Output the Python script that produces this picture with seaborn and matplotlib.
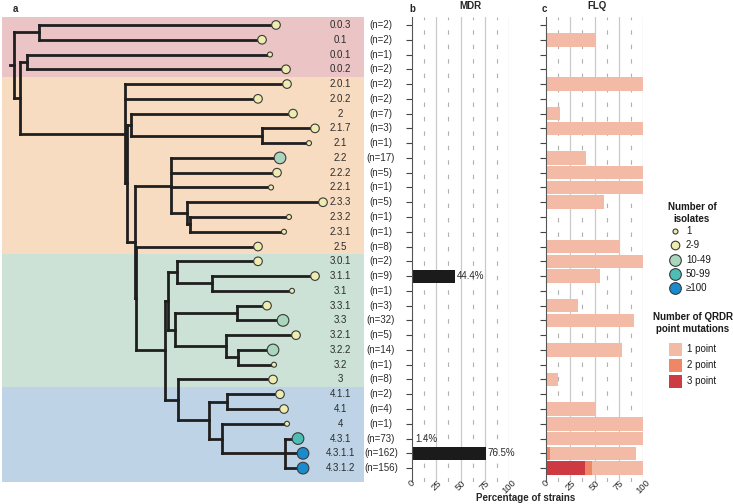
import matplotlib
matplotlib.use('Agg')
import matplotlib.pyplot as plt
import seaborn as sns
import numpy as np
import pandas as pd
from matplotlib.patches import Rectangle
from matplotlib.collections import LineCollection

sns.set_theme(style='white')
plt.rcParams['font.family'] = ['Liberation Sans', 'DejaVu Sans']

# ---------------- data ----------------
tip_labels = ['0.0.3', '0.1', '0.0.1', '0.0.2', '2.0.1', '2.0.2', '2', '2.1.7', '2.1',
              '2.2', '2.2.2', '2.2.1', '2.3.3', '2.3.2', '2.3.1', '2.5', '3.0.1', '3.1.1',
              '3.1', '3.3.1', '3.3', '3.2.1', '3.2.2', '3.2', '3', '4.1.1', '4.1', '4',
              '4.3.1', '4.3.1.1', '4.3.1.2']
tip_counts = [2, 2, 1, 2, 2, 2, 7, 3, 1, 17, 5, 1, 5, 1, 1, 8, 2, 9, 1, 3, 32, 5, 14, 1,
              8, 2, 4, 1, 73, 162, 156]
tip_depth = [276, 262, 270, 286, 287, 258, 293, 315, 309, 280, 277, 271, 323, 289, 284,
             258, 258, 315, 292, 267, 283, 296, 273, 274, 273, 280, 284, 287, 298, 303, 303]

node_names = ['root', 'A', 'D', 'B', 'C', 'C3', 'J', 'K', 'E1', 'E2', 'F', 'H', 'I', 'G',
              'W', 'Q', 'R', 'V', 'S', 'T', 'U', 'M', 'L', 'N', 'O', 'P']
node_depth = [14, 39, 20, 27, 124.5, 127, 131, 262, 134.5, 135.5, 171, 187, 190, 165,
              168, 177, 212, 175, 237, 226, 238, 178, 209, 227, 222, 285]
node_children = [['A', 'D'], ['0.0.3', '0.1'], ['B', 'C'], ['0.0.1', '0.0.2'],
                 ['2.0.1', '2.0.2', 'C3'], ['J', 'E1'], ['2', 'K'], ['2.1.7', '2.1'],
                 ['F', 'E2'], ['2.5', 'G'], ['2.2', '2.2.2', '2.2.1', 'H'], ['2.3.3', 'I'],
                 ['2.3.2', '2.3.1'], ['W', 'M'], ['Q', 'V'], ['3.0.1', 'R'], ['3.1.1', '3.1'],
                 ['S', 'T'], ['3.3.1', '3.3'], ['3.2.1', 'U'], ['3.2.2', '3.2'], ['3', 'L'],
                 ['N', 'O'], ['4.1.1', '4.1'], ['4', 'P'], ['4.3.1', '4.3.1.1', '4.3.1.2']]
root_stem = 10

band_edges = [-0.56, 3.5, 15.5, 24.5, 30.96]
band_colors = ['#EBC4C5', '#F8DCC1', '#CCE2D6', '#BED4E6']

mdr_pct = [0, 0, 0, 0, 0, 0, 0, 0, 0, 0, 0, 0, 0, 0, 0, 0, 0, 44.4, 0, 0, 0, 0, 0, 0,
           0, 0, 0, 0, 1.4, 76.5, 0]
flq_1pt = [0, 50, 0, 0, 100, 0, 14.3, 100, 0, 41.2, 100, 100, 60, 0, 0, 75, 100, 55.6, 0,
           33.3, 90.6, 0, 78.6, 0, 12.5, 0, 50, 100, 100, 88.9, 52.6]
flq_2pt = [0] * 29 + [3.7, 7.7]
flq_3pt = [0] * 30 + [39.7]

iso_classes = ['1', '2-9', '10-49', '50-99', '\u2265100']
iso_colors = ['#EEEDAF', '#EEEDAF', '#A9D6BC', '#4DBEB5', '#1A8CCD']
iso_ms = [3.6, 6.2, 8.4, 8.4, 8.4]
qrdr_labels = ['1 point', '2 point', '3 point']
qrdr_colors = ['#F3BBA5', '#EF8767', '#CE3A41']
x_ticks = [0, 25, 50, 75, 100]

# ---------------- layout ----------------
W, H = 733, 504
top_px, bot_px = 16.7, 482.3
YLIM = (band_edges[-1], band_edges[0])

fig = plt.figure(figsize=(W / 100, H / 100), dpi=100)


def pos(x0, x1):
    return [x0 / W, 1 - bot_px / H, (x1 - x0) / W, (bot_px - top_px) / H]


def ftext(x, y, s, **kw):
    fig.text(x / W, 1 - y / H, s, **kw)


ax_a = fig.add_axes(pos(0, 405))
ax_b = fig.add_axes(pos(412, 509))
ax_c = fig.add_axes(pos(546, 643))

# ---------------- tree ----------------
ypos = {lab: float(i) for i, lab in enumerate(tip_labels)}
xpos = dict(zip(tip_labels, tip_depth))
xpos.update(dict(zip(node_names, node_depth)))
node_map = dict(zip(node_names, node_children))


def get_y(name):
    if name in ypos:
        return ypos[name]
    ch = node_map[name]
    y = (get_y(ch[0]) + get_y(ch[-1])) / 2
    ypos[name] = y
    return y


for n in node_names:
    get_y(n)

for i in range(len(band_colors)):
    ax_a.add_patch(Rectangle((2, band_edges[i]), 362, band_edges[i + 1] - band_edges[i],
                             facecolor=band_colors[i], lw=0, zorder=0))

segs = []
for n, ch in zip(node_names, node_children):
    ys = [ypos[c] for c in ch]
    segs.append([(xpos[n], min(ys)), (xpos[n], max(ys))])
    for c in ch:
        segs.append([(xpos[n], ypos[c]), (xpos[c], ypos[c])])
segs.append([(root_stem, ypos['root']), (xpos['root'], ypos['root'])])
ax_a.add_collection(LineCollection(segs, colors='#1f1f1f', linewidths=2.0,
                                   capstyle='projecting', zorder=2))

tips = pd.DataFrame({'lineage': tip_labels, 'n': tip_counts, 'depth': tip_depth,
                     'row': np.arange(len(tip_labels))})
tips['cls'] = pd.cut(tips['n'], bins=[0, 1, 9, 49, 99, np.inf], labels=iso_classes).astype(str)
sns.scatterplot(data=tips, x='depth', y='row', hue='cls', size='cls',
                palette=dict(zip(iso_classes, iso_colors)),
                sizes=dict(zip(iso_classes, [m ** 2 for m in iso_ms])),
                edgecolor='#3a3a3a', linewidth=0.8, legend=False, zorder=3, ax=ax_a)

for i, (lab, n) in enumerate(zip(tip_labels, tip_counts)):
    ax_a.text(340, i, lab, ha='center', va='center', fontsize=7, color='#2b2b2b', zorder=4)
    ax_a.text(381, i, f'(n={n})', ha='center', va='center', fontsize=7, color='#2b2b2b')

ax_a.set_xlim(0, 405)
ax_a.set_ylim(*YLIM)
ax_a.axis('off')

# ---------------- bar panels ----------------
df = pd.DataFrame({'lineage': tip_labels, 'mdr': mdr_pct,
                   'f1': flq_1pt, 'f2': flq_2pt, 'f3': flq_3pt})
df['f_all'] = df['f1'] + df['f2'] + df['f3']
df['f23'] = df['f2'] + df['f3']

sns.barplot(data=df, x='mdr', y='lineage', order=tip_labels, orient='h', color='#1b1b1b',
            saturation=1, width=0.88, linewidth=0, ax=ax_b)
for col, colr in zip(['f_all', 'f23', 'f3'], qrdr_colors):
    sns.barplot(data=df, x=col, y='lineage', order=tip_labels, orient='h', color=colr,
                saturation=1, width=0.92, linewidth=0, ax=ax_c)

for i, v in enumerate(mdr_pct):
    if v > 0:
        ax_b.text(v + 1.5, i, f'{v}%', ha='left', va='center', fontsize=7, color='#2b2b2b')

for ax in (ax_b, ax_c):
    for v in [25, 50, 75, 100]:
        ax.axvline(v, color='#c9c9c9', lw=0.9, zorder=0)
    for v in [12.5, 37.5, 62.5, 87.5]:
        ax.axvline(v, color='#b0b0b0', lw=0.8, ls=(0, (4, 9)), zorder=0)
    ax.set_xlim(0, 100)
    ax.set_ylim(*YLIM)
    ax.set_yticks(range(len(tip_labels)))
    ax.set_yticklabels([])
    ax.set_xticks(x_ticks)
    ax.set_xticklabels([str(t) for t in x_ticks], rotation=45, ha='center')
    ax.tick_params(axis='y', left=True, length=4, width=0.8, color='#444444', direction='out')
    ax.tick_params(axis='x', bottom=False, length=0, pad=-3, labelsize=6.8, labelcolor='#2b2b2b')
    ax.set_xlabel('')
    ax.set_ylabel('')
    for s in ['top', 'right', 'bottom']:
        ax.spines[s].set_visible(False)
    ax.spines['left'].set_color('#555555')
    ax.spines['left'].set_linewidth(0.8)
    ax.set_facecolor('none')

# ---------------- titles ----------------
ftext(15, 9, 'a', fontsize=7, fontweight='bold', ha='center', va='center')
ftext(412, 9, 'b', fontsize=7, fontweight='bold', ha='center', va='center')
ftext(544, 9, 'c', fontsize=7, fontweight='bold', ha='center', va='center')
ftext(470, 6, 'MDR', fontsize=7, fontweight='bold', ha='center', va='center')
ftext(597, 6, 'FLQ', fontsize=7, fontweight='bold', ha='center', va='center')
ftext(526, 498, 'Percentage of strains', fontsize=7, fontweight='bold', ha='center', va='center')

# ---------------- legends ----------------
ax_l = fig.add_axes([0, 0, 1, 1])
ax_l.set_xlim(0, W)
ax_l.set_ylim(H, 0)
ax_l.axis('off')
ax_l.patch.set_alpha(0)

ax_l.text(692, 213, 'Number of\nisolates', fontsize=7, fontweight='bold', ha='center',
          va='center', linespacing=1.15, color='#1a1a1a')
for k, (lab, c, ms) in enumerate(zip(iso_classes, iso_colors, iso_ms)):
    yy = 231 + 14.3 * k
    ax_l.plot([675], [yy], marker='o', ms=ms, mfc=c, mec='#3a3a3a', mew=0.8, ls='none')
    ax_l.text(686, yy, lab, fontsize=7, ha='left', va='center', color='#1a1a1a')

ax_l.text(693, 323, 'Number of QRDR\npoint mutations', fontsize=7, fontweight='bold',
          ha='center', va='center', linespacing=1.15, color='#1a1a1a')
for k, (lab, c) in enumerate(zip(qrdr_labels, qrdr_colors)):
    yy = 349 + 16 * k
    ax_l.add_patch(Rectangle((668.5, yy - 6.5), 13, 13, facecolor=c, lw=0))
    ax_l.text(687, yy, lab, fontsize=7, ha='left', va='center', color='#1a1a1a')

fig.savefig('out.png', dpi=100)
